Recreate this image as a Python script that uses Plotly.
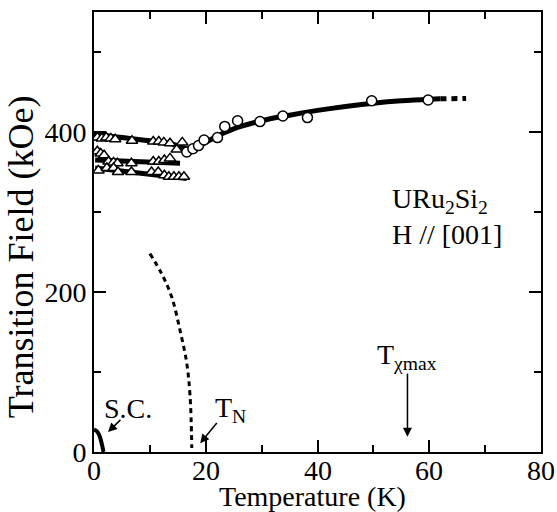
import plotly.graph_objects as go

# ---------------- data ----------------
circ_T = [16.6, 17.7, 18.7, 19.7, 22.1, 23.4, 25.7, 29.7, 33.8, 38.2, 49.7, 59.8]
circ_H = [375, 379, 383, 390, 393, 407, 414, 413, 420, 418, 439, 440]

tri_top_T = [0.6, 1.4, 2.2, 3.0, 3.8, 6.8, 10.6, 11.6, 12.5, 13.6, 14.8, 15.8]
tri_top_H = [393, 392, 393, 392, 391, 389, 388, 388, 387, 386, 378, 387]

tri_mid_T = [0.6, 1.2, 1.8, 2.6, 3.5, 4.2, 6.7, 10.6, 11.6, 12.6, 13.6]
tri_mid_H = [376, 373, 371, 363, 362, 361, 361, 363, 363, 365, 367]

tri_bot_T = [0.8, 2.3, 3.5, 4.3, 6.7, 10.3, 11.5, 12.6, 13.4, 14.3, 15.2, 16.1]
tri_bot_H = [352, 355, 355, 350, 350, 350, 350, 346, 344, 344, 344, 344]

main_T = [0, 5, 10, 14, 16, 17.5, 19, 21, 23, 25, 30, 35, 40, 45, 50, 55, 60, 62]
main_H = [398, 393, 389, 385, 380, 378, 383, 391, 398, 404, 414, 421, 427, 432, 436, 439, 441, 441.5]
ext_T = [62, 66.6]
ext_H = [441.5, 442]

mid_T = [0.2, 15.4]
mid_H = [365, 361]
bot_T = [0.2, 16.6]
bot_H = [355, 342]

tn_T = [10.0, 12.1, 13.9, 15.4, 16.6, 17.2, 17.5]
tn_H = [248, 223, 194, 152, 111, 69, 5]

sc_T = [0, 0.5, 1.0, 1.4, 1.7]
sc_H = [28, 26, 20, 10, 0]

x_ticks = [0, 20, 40, 60, 80]
y_ticks = [0, 200, 400]
x_title = "Temperature (K)"
y_title = "Transition Field (kOe)"

FONT = "Liberation Serif"
fig = go.Figure()

line_style = dict(color="black", width=5)
fig.add_trace(go.Scatter(x=main_T, y=main_H, mode="lines", line=dict(color="black", width=5, shape="spline")))
fig.add_trace(go.Scatter(x=ext_T, y=ext_H, mode="lines", line=dict(color="black", width=5, dash="6px,5px")))
fig.add_trace(go.Scatter(x=mid_T, y=mid_H, mode="lines", line=line_style))
fig.add_trace(go.Scatter(x=bot_T, y=bot_H, mode="lines", line=line_style))
fig.add_trace(go.Scatter(x=tn_T, y=tn_H, mode="lines", line=dict(color="black", width=3, dash="5px,4px", shape="spline")))
fig.add_trace(go.Scatter(x=sc_T, y=sc_H, mode="lines", line=dict(color="black", width=4, shape="spline")))

tri_marker = dict(symbol="triangle-up", size=10, color="white", line=dict(color="black", width=1.5))
for tx, ty in [(tri_top_T, tri_top_H), (tri_mid_T, tri_mid_H), (tri_bot_T, tri_bot_H)]:
    fig.add_trace(go.Scatter(x=tx, y=ty, mode="markers", marker=tri_marker))
fig.add_trace(go.Scatter(x=circ_T, y=circ_H, mode="markers",
                         marker=dict(symbol="circle", size=10, color="white", line=dict(color="black", width=1.5))))

ann = []
def arrow(x0, y0, x1, y1):
    ann.append(dict(x=x1, y=y1, ax=x0, ay=y0, xref="x", yref="y", axref="x", ayref="y",
                    text="", showarrow=True, arrowhead=2, arrowsize=1.2, arrowwidth=1.5, arrowcolor="black"))
arrow(5.0, 42, 2.5, 25)
arrow(22.2, 38, 19.0, 11)
arrow(56.1, 100, 56.1, 19)

def label(x, y, t, xanchor="center", size=28):
    ann.append(dict(x=x, y=y, xref="x", yref="y", text=t, showarrow=False, xanchor=xanchor,
                    font=dict(family=FONT, size=size, color="black")))
label(6.1, 55, "S.C.")
label(24.5, 53, "T<sub>N</sub>")
label(56, 120, "T<sub>χmax</sub>")
label(53, 315, "URu<sub>2</sub>Si<sub>2</sub>", "left")
label(53, 272, "H // [001]", "left")

# x tick labels placed on the x scale, just below the axis
for v in x_ticks:
    ann.append(dict(x=v, y=-0.043, xref="x", yref="paper", text=str(v), showarrow=False,
                    xanchor="center", yanchor="middle", font=dict(family=FONT, size=28, color="black")))

# axis titles as paper-anchored annotations
ann.append(dict(x=0.488, y=-0.100, xref="paper", yref="paper", text=x_title, showarrow=False,
                xanchor="center", yanchor="middle", font=dict(family=FONT, size=28, color="black")))
ann.append(dict(x=-0.163, y=0.443, xref="paper", yref="paper", text=y_title, showarrow=False,
                textangle=-90, xanchor="center", yanchor="middle",
                font=dict(family=FONT, size=36, color="black")))

axis_common = dict(showline=True, linecolor="black", linewidth=2, mirror="allticks",
                   ticks="inside", ticklen=12, tickwidth=2, tickcolor="black",
                   showgrid=False, zeroline=False, automargin=False,
                   tickfont=dict(family=FONT, size=28, color="black"))
fig.update_xaxes(range=[0, 80], tickvals=x_ticks, showticklabels=False,
                 minor=dict(dtick=10, ticks="inside", ticklen=7, tickwidth=2, tickcolor="black", showgrid=False),
                 **axis_common)
fig.update_yaxes(range=[0, 550], tickvals=y_ticks, ticktext=[str(v) for v in y_ticks],
                 minor=dict(dtick=100, ticks="inside", ticklen=7, tickwidth=2, tickcolor="black", showgrid=False),
                 **axis_common)
fig.update_layout(width=557, height=512, margin=dict(l=94, r=16, t=12, b=60, autoexpand=False),
                  paper_bgcolor="white", plot_bgcolor="white", showlegend=False,
                  annotations=ann)
fig.write_html("out.html")
